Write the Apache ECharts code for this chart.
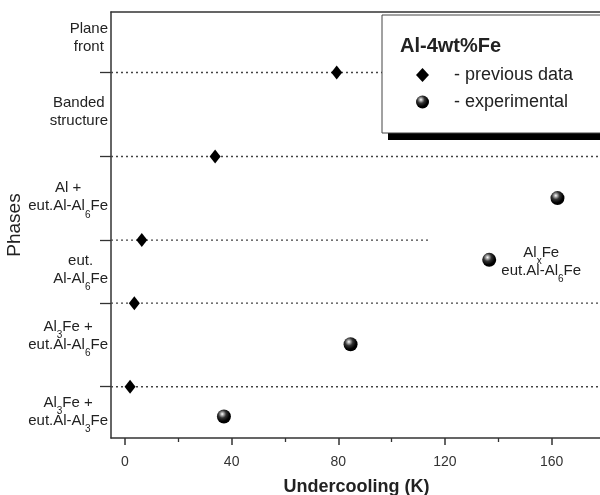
<!DOCTYPE html>
<html>
<head>
<meta charset="utf-8">
<script src="https://cdn.jsdelivr.net/npm/echarts@6/dist/echarts.min.js"></script>
<style>
  html, body { margin: 0; padding: 0; background: #fff; }
  #main { width: 600px; height: 495px; }
</style>
</head>
<body>
<div id="main"></div>
<script>
// phases on the y axis, "_" marks a subscript
var phaseLabels = ['Plane\nfront', 'Banded\nstructure', 'Al +\neut.Al-Al_6Fe', 'eut.\nAl-Al_6Fe', 'Al_3Fe +\neut.Al-Al_6Fe', 'Al_3Fe +\neut.Al-Al_3Fe'];
var labelLevels = [9.52, 7.76, 5.73, 4.0, 2.43, 0.63];
var dividerLevels = [8.70, 6.70, 4.71, 3.21, 1.22];
var dividerEnds = [178.9, 178.9, 114, 178.9, 178.9];

var xMajorTicks = [0, 40, 80, 120, 160];
var xMinorTicks = [20, 60, 100, 140];

// previous data (diamonds)
var prevX = [79.4, 33.8, 6.3, 3.5, 1.9];
var prevY = [8.70, 6.70, 4.71, 3.21, 1.22];
// experimental (spheres)
var expX = [37.1, 84.6, 136.6, 162.2];
var expY = [0.51, 2.23, 4.24, 5.71];
var expNoteIndex = 2;
var expNote = 'Al_xFe\neut.Al-Al_6Fe';

var FONT = '"Liberation Sans", Arial, Helvetica, sans-serif';
var INK = '#222';

function toRich(s) {
    return s.split('\n').map(function (line) {
        return line.split(/_(\w)/).map(function (p, i) {
            if (p === '') return '';
            return i % 2 ? '{s|' + p + '}' : '{n|' + p + '}';
        }).join('');
    }).join('\n');
}

var richStyles = {
    n: { fontFamily: FONT, fontSize: 15, lineHeight: 18, color: INK, align: 'center' },
    s: { fontFamily: FONT, fontSize: 10, lineHeight: 10, color: INK, align: 'center', padding: [17, 0, 0, 0] }
};

var myChart = echarts.init(document.getElementById('main'));

var series = [];
dividerLevels.forEach(function (lv, i) {
    series.push({
        type: 'line',
        name: 'div' + i,
        data: [[-5.25, lv], [dividerEnds[i], lv]],
        symbol: 'none',
        silent: true,
        lineStyle: { color: '#444', width: 1.3, type: [2, 3] },
        z: 1
    });
});

series.push({
    name: 'previous data',
    type: 'scatter',
    symbol: 'diamond',
    symbolSize: [11, 14],
    itemStyle: { color: '#000', opacity: 1 },
    data: prevX.map(function (x, i) { return [x, prevY[i]]; }),
    z: 3
});

var sphere = {
    type: 'radial', x: 0.38, y: 0.32, r: 0.7,
    colorStops: [
        { offset: 0, color: '#ffffff' },
        { offset: 0.15, color: '#b0b0b0' },
        { offset: 0.4, color: '#333333' },
        { offset: 0.75, color: '#000000' },
        { offset: 1, color: '#000000' }
    ]
};

series.push({
    name: 'experimental',
    type: 'scatter',
    symbol: 'circle',
    symbolSize: 14,
    itemStyle: { color: sphere, opacity: 1 },
    data: expX.map(function (x, i) {
        var item = { value: [x, expY[i]] };
        if (i === expNoteIndex) {
            item.label = {
                show: true,
                position: 'inside',
                offset: [52, 2],
                formatter: toRich(expNote),
                rich: richStyles
            };
        }
        return item;
    }),
    z: 3
});

myChart.setOption({
    backgroundColor: '#fff',
    animation: false,
    textStyle: { fontFamily: FONT, color: INK },
    grid: { left: 111, right: -2, top: 12, bottom: 57, containLabel: false, outerBoundsMode: 'none' },
    title: {
        text: 'Al-4wt%Fe',
        left: 395,
        top: 31,
        textStyle: { fontFamily: FONT, fontSize: 20, fontWeight: 'bold', color: INK }
    },
    // black drop shadow of the legend box
    graphic: [{
        type: 'rect',
        z: 3.5,
        silent: true,
        shape: { x: 388, y: 22, width: 240, height: 118 },
        style: { fill: '#000' }
    }],
    legend: {
        data: ['previous data', 'experimental'],
        orient: 'vertical',
        left: 382,
        top: 15,
        padding: [51, 60, 22, 34],
        itemWidth: 13,
        itemHeight: 14,
        itemGap: 9,
        backgroundColor: '#fff',
        borderColor: '#444',
        borderWidth: 1,
        selectedMode: false,
        formatter: function (name) { return '{g|}- ' + name; },
        textStyle: {
            fontFamily: FONT, fontSize: 18, color: INK,
            rich: { g: { width: 20 } }
        }
    },
    xAxis: [{
        type: 'value',
        min: -5.25,
        max: 178.9,
        position: 'bottom',
        name: 'Undercooling (K)',
        nameLocation: 'middle',
        nameGap: 40,
        nameMoveOverlap: false,
        nameTextStyle: { fontFamily: FONT, fontSize: 18, fontWeight: 'bold', color: INK },
        splitLine: { show: false },
        axisLine: { onZero: false, lineStyle: { color: '#333', width: 1.5 } },
        axisTick: { customValues: xMajorTicks, length: 7, lineStyle: { color: '#333', width: 1.5 } },
        axisLabel: { customValues: xMajorTicks, margin: 17, fontSize: 14, color: '#333', fontFamily: FONT }
    }, {
        type: 'value',
        min: -5.25,
        max: 178.9,
        position: 'bottom',
        splitLine: { show: false },
        axisLine: { show: false },
        axisTick: { customValues: xMinorTicks, length: 4, lineStyle: { color: '#333', width: 1.3 } },
        axisLabel: { show: false }
    }, {
        type: 'value',
        min: -5.25,
        max: 178.9,
        position: 'top',
        splitLine: { show: false },
        axisLine: { onZero: false, lineStyle: { color: '#333', width: 1.5 } },
        axisTick: { show: false },
        axisLabel: { show: false }
    }],
    yAxis: {
        type: 'value',
        min: 0,
        max: 10.14,
        name: 'Phases',
        nameLocation: 'middle',
        nameGap: 87,
        nameMoveOverlap: false,
        nameTextStyle: { fontFamily: FONT, fontSize: 19, color: INK },
        splitLine: { show: false },
        axisLine: { onZero: false, lineStyle: { color: '#333', width: 1.5 } },
        axisTick: { customValues: dividerLevels, length: 11, lineStyle: { color: '#333', width: 1.3 } },
        axisLabel: {
            customValues: labelLevels,
            margin: 3,
            formatter: function (v) {
                for (var i = 0; i < labelLevels.length; i++) {
                    if (Math.abs(labelLevels[i] - v) < 1e-6) return toRich(phaseLabels[i]);
                }
                return '';
            },
            rich: richStyles
        }
    },
    series: series
});
</script>
</body>
</html>
